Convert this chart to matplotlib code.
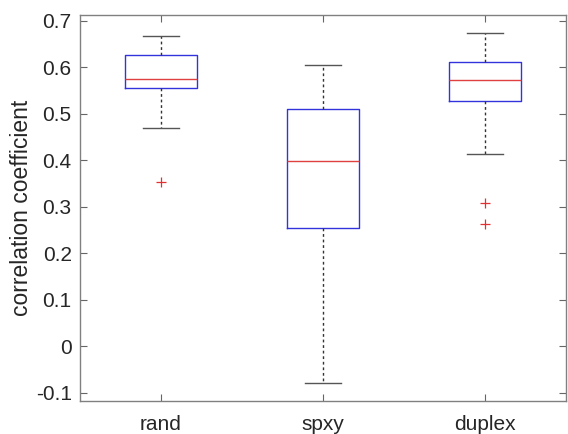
import matplotlib
matplotlib.use("Agg")
import matplotlib.pyplot as plt

categories = ["rand", "spxy", "duplex"]
whislo = [0.468, -0.080, 0.413]
q1 = [0.555, 0.255, 0.528]
med = [0.575, 0.398, 0.572]
q3 = [0.627, 0.510, 0.610]
whishi = [0.667, 0.605, 0.673]
fliers = [[0.352], [], [0.308, 0.262]]
yticks = [-0.1, 0, 0.1, 0.2, 0.3, 0.4, 0.5, 0.6, 0.7]
ytick_labels = ["-0.1", "0", "0.1", "0.2", "0.3", "0.4", "0.5", "0.6", "0.7"]

plt.rcParams['font.family'] = ['Liberation Sans', 'DejaVu Sans']

fig = plt.figure(figsize=(5.68, 4.34), dpi=100)
ax = fig.add_axes([80/568, 1-401/434, 486/568, 386/434])

stats = []
for i, c in enumerate(categories):
    stats.append(dict(label=c, whislo=whislo[i], q1=q1[i], med=med[i],
                      q3=q3[i], whishi=whishi[i], fliers=fliers[i]))

ax.bxp(stats, positions=[1, 2, 3], widths=0.45,
       boxprops=dict(color='#3333dd', linewidth=1.0),
       medianprops=dict(color='#e04040', linewidth=1.0),
       whiskerprops=dict(color='#333333', linestyle=(0, (2, 2)), linewidth=1.0),
       capprops=dict(color='#555555', linewidth=1.0),
       capwidths=0.22,
       flierprops=dict(marker='+', markeredgecolor='#e03030', markersize=7, markeredgewidth=0.9, linestyle='none'))

ax.set_xlim(0.5, 3.5)
ax.set_ylim(-0.118, 0.712)
ax.set_yticks(yticks)
ax.set_yticklabels(ytick_labels)
ax.set_xticks([1, 2, 3])
ax.set_xticklabels(categories)
ax.tick_params(direction='in', top=True, right=True, length=5, width=0.8,
               color='#666666', labelsize=15, labelcolor='#262626')
ax.tick_params(axis='x', pad=10)
ax.tick_params(axis='y', pad=6)
for s in ax.spines.values():
    s.set_color('#808080')
    s.set_linewidth(1.0)
ax.set_ylabel("correlation coefficient", fontsize=16.5, color='#262626')
ax.yaxis.set_label_coords((33 - 80) / 486, 0.5)

fig.savefig("out.png", dpi=100)
